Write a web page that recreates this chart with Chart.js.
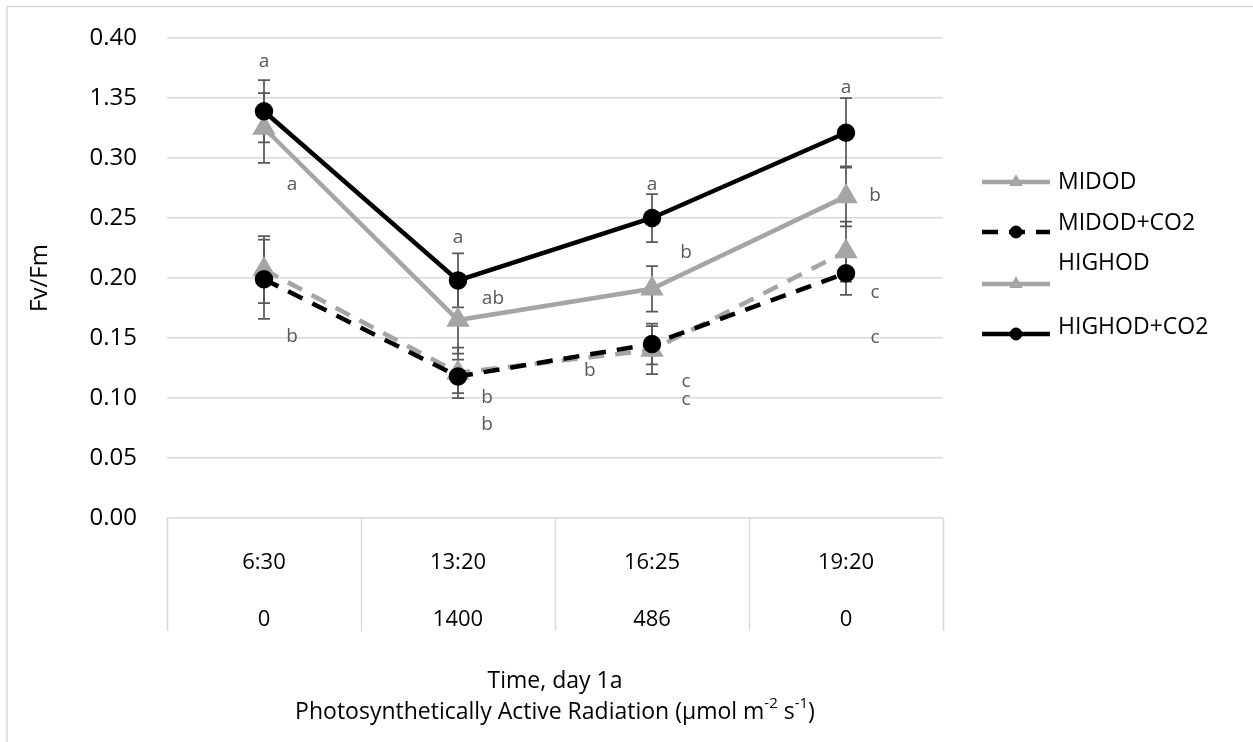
<!DOCTYPE html>
<html>
<head>
<meta charset="utf-8">
<script src="https://cdn.jsdelivr.net/npm/chart.js@4.4.1/dist/chart.umd.min.js"></script>
<style>
  body { margin: 0; background: #fff; }
  canvas { display: block; }
</style>
</head>
<body>
<canvas id="fvfmChart" width="1253" height="742"></canvas>
<script>
// categories: time of day and PAR level
const timeLabels = ['6:30', '13:20', '16:25', '19:20'];
const parLabels = ['0', '1400', '486', '0'];

// y tick labels as printed on the original (note the "1.35")
const yTickLabels = ['0.00', '0.05', '0.10', '0.15', '0.20', '0.25', '0.30', '1.35', '0.40'];

const seriesNames = ['MIDOD', 'MIDOD+CO2', 'HIGHOD', 'HIGHOD+CO2'];

const midod = [0.207, 0.121, 0.140, 0.222];
const midodErr = [0.028, 0.021, 0.020, 0.025];
const midodCo2 = [0.199, 0.118, 0.145, 0.204];
const midodCo2Err = [0.033, 0.014, 0.017, 0.018];
const highod = [0.325, 0.165, 0.191, 0.268];
const highodErr = [0.029, 0.028, 0.019, 0.025];
const highodCo2 = [0.339, 0.198, 0.250, 0.321];
const highodCo2Err = [0.026, 0.0225, 0.020, 0.029];

// significance letters (category position, value position, text)
const noteX = [0, 0.145, 0.145, 1, 1.18, 1.15, 1.15, 2, 2.175, 1.68, 2.175, 2.175, 3, 3.15, 3.15, 3.15];
const noteY = [0.380, 0.278, 0.151, 0.234, 0.183, 0.100, 0.078, 0.278, 0.221, 0.123, 0.114, 0.099, 0.359, 0.269, 0.188, 0.150];
const noteText = ['a', 'a', 'b', 'a', 'ab', 'b', 'b', 'a', 'b', 'b', 'c', 'c', 'a', 'b', 'c', 'c'];

const GRAY = '#a5a5a5';
const BLACK = '#000000';
const DASH = [16, 11];

const errors = [midodErr, midodCo2Err, highodErr, highodCo2Err];

const decor = {
    id: 'decor',
    beforeDraw(chart) {
        const ctx = chart.ctx;
        ctx.save();
        ctx.strokeStyle = '#d9d9d9';
        ctx.lineWidth = 1.5;
        ctx.beginPath();
        ctx.moveTo(7, 742);
        ctx.lineTo(7, 6.5);
        ctx.lineTo(1253, 6.5);
        ctx.stroke();
        ctx.restore();
    },
    beforeDatasetsDraw(chart) {
        // error bars sit under the lines
        const ctx = chart.ctx;
        const x = chart.scales.x, y = chart.scales.y;
        ctx.save();
        ctx.strokeStyle = '#595959';
        ctx.lineWidth = 1.75;
        chart.data.datasets.forEach((ds, d) => {
            ds.data.forEach((v, i) => {
                const px = x.getPixelForValue(i);
                const top = y.getPixelForValue(v + errors[d][i]);
                const bot = y.getPixelForValue(v - errors[d][i]);
                ctx.beginPath();
                ctx.moveTo(px, top); ctx.lineTo(px, bot);
                ctx.moveTo(px - 6, top); ctx.lineTo(px + 6, top);
                ctx.moveTo(px - 6, bot); ctx.lineTo(px + 6, bot);
                ctx.stroke();
            });
        });
        ctx.restore();
    },
    afterDraw(chart) {
        const ctx = chart.ctx;
        const x = chart.scales.x, y = chart.scales.y;
        ctx.save();

        // category table lines under the axis
        ctx.strokeStyle = '#d9d9d9';
        ctx.lineWidth = 1.5;
        for (let i = 0; i <= timeLabels.length; i++) {
            const px = Math.round(x.getPixelForValue(i - 0.5)) + 0.5;
            ctx.beginPath();
            ctx.moveTo(px, y.bottom);
            ctx.lineTo(px, y.bottom + 113);
            ctx.stroke();
        }

        // letters
        ctx.fillStyle = '#595959';
        ctx.font = '19px "Open Sans"';
        ctx.textAlign = 'center';
        ctx.textBaseline = 'middle';
        noteText.forEach((t, i) => {
            ctx.fillText(t, x.getPixelForValue(noteX[i]), y.getPixelForValue(noteY[i]));
        });

        // legend
        const lineY = [182, 232, 284, 334];
        const textY = [182, 223, 263, 327];
        chart.data.datasets.forEach((ds, d) => {
            ctx.strokeStyle = ds.borderColor;
            ctx.lineWidth = 4.5;
            ctx.setLineDash(d === 1 ? DASH : []);
            ctx.beginPath();
            ctx.moveTo(982, lineY[d]);
            ctx.lineTo(1050, lineY[d]);
            ctx.stroke();
            ctx.setLineDash([]);
            ctx.fillStyle = ds.pointBackgroundColor;
            ctx.strokeStyle = ds.pointBackgroundColor;
            ctx.lineWidth = 1;
            Chart.helpers.drawPoint(ctx, {
                pointStyle: ds.pointStyle,
                radius: ds.pointStyle === 'triangle' ? 7 : 6,
                rotation: 0,
                borderWidth: 1
            }, 1016, lineY[d]);
            ctx.fillStyle = '#000';
            ctx.font = '23px "Open Sans"';
            ctx.textAlign = 'left';
            ctx.textBaseline = 'middle';
            ctx.fillText(ds.label, 1058, textY[d]);
        });

        // bottom axis titles
        const cx = (x.left + x.right) / 2;
        ctx.fillStyle = '#000';
        ctx.textBaseline = 'middle';
        ctx.textAlign = 'center';
        ctx.font = '23px "Open Sans"';
        ctx.fillText('Time, day 1a', cx, 681);

        const parts = [
            ['Photosynthetically Active Radiation (\u00b5mol m', false],
            ['-2', true],
            [' s', false],
            ['-1', true],
            [')', false]
        ];
        const big = '23px "Open Sans"';
        const small = '15px "Open Sans"';
        let total = 0;
        parts.forEach(p => { ctx.font = p[1] ? small : big; total += ctx.measureText(p[0]).width; });
        let px = cx - total / 2;
        ctx.textAlign = 'left';
        parts.forEach(p => {
            ctx.font = p[1] ? small : big;
            ctx.fillText(p[0], px, p[1] ? 704 : 712);
            px += ctx.measureText(p[0]).width;
        });

        ctx.restore();
    }
};

const ctx = document.getElementById('fvfmChart').getContext('2d');
new Chart(ctx, {
    type: 'line',
    data: {
        labels: timeLabels.map((t, i) => [t, parLabels[i]]),
        datasets: [
            {
                label: seriesNames[0], data: midod, order: 4,
                borderColor: GRAY, borderWidth: 4.5, borderDash: DASH,
                pointStyle: 'triangle', pointRadius: 9,
                pointBackgroundColor: GRAY, pointBorderColor: GRAY
            },
            {
                label: seriesNames[1], data: midodCo2, order: 3,
                borderColor: BLACK, borderWidth: 4.5, borderDash: DASH,
                pointStyle: 'circle', pointRadius: 7,
                pointBackgroundColor: BLACK, pointBorderColor: BLACK
            },
            {
                label: seriesNames[2], data: highod, order: 2,
                borderColor: GRAY, borderWidth: 4.5,
                pointStyle: 'triangle', pointRadius: 9,
                pointBackgroundColor: GRAY, pointBorderColor: GRAY
            },
            {
                label: seriesNames[3], data: highodCo2, order: 1,
                borderColor: BLACK, borderWidth: 4.5,
                pointStyle: 'circle', pointRadius: 7,
                pointBackgroundColor: BLACK, pointBorderColor: BLACK
            }
        ]
    },
    options: {
        responsive: false,
        animation: false,
        layout: { padding: { left: 0, top: 38, right: 310, bottom: 0 } },
        plugins: {
            legend: { display: false },
            tooltip: { enabled: false }
        },
        scales: {
            x: {
                offset: true,
                grid: { display: false },
                border: { display: false },
                ticks: {
                    color: '#000',
                    padding: 8,
                    font: { family: '"Open Sans"', size: 22, lineHeight: '57px' }
                },
                afterFit: (scale) => { scale.height = 224; }
            },
            y: {
                min: 0,
                max: 0.4,
                grid: { color: '#d9d9d9', lineWidth: 1.5, drawTicks: true, tickLength: 30, tickColor: 'rgba(0,0,0,0)' },
                border: { display: false },
                ticks: {
                    stepSize: 0.05,
                    color: '#000',
                    padding: 0,
                    font: { family: '"Open Sans"', size: 24 },
                    callback: (v, i) => yTickLabels[i]
                },
                title: {
                    display: true,
                    text: 'Fv/Fm',
                    color: '#000',
                    font: { family: '"Open Sans"', size: 24 },
                    padding: { top: 26, bottom: 0 }
                },
                afterFit: (scale) => { scale.width = 167; }
            }
        }
    },
    plugins: [decor]
});
</script>
</body>
</html>
